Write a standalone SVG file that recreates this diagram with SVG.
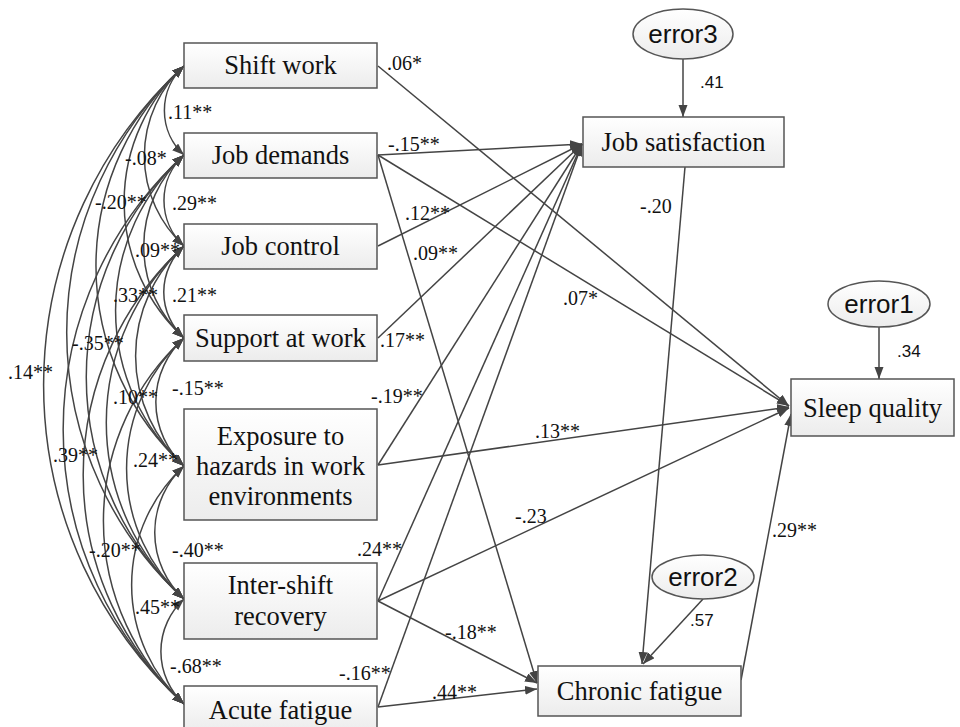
<svg xmlns="http://www.w3.org/2000/svg" width="960" height="727" viewBox="0 0 960 727">
<defs>
<linearGradient id="gb" x1="0" y1="0" x2="0" y2="1"><stop offset="0" stop-color="#ffffff"/><stop offset="1" stop-color="#ececec"/></linearGradient>
<marker id="ah" markerUnits="userSpaceOnUse" markerWidth="14" markerHeight="10" refX="12" refY="4.5" orient="auto-start-reverse"><path d="M0 0 L12 4.5 L0 9 Z" fill="#444"/></marker>
</defs>
<style>
.box{fill:url(#gb);stroke:#555;stroke-width:1.5}
.t{font-size:26.5px;fill:#111;text-anchor:middle}
.e{font-size:26px;fill:#111;text-anchor:middle}
.l{font-size:20px;fill:#111}
.s{font-size:17px;fill:#111}
.c path{fill:none;stroke:#444;stroke-width:1.5;marker-end:url(#ah)}
.cov path{fill:none;stroke:#444;stroke-width:1.5;marker-start:url(#ah);marker-end:url(#ah)}
</style>
<rect width="960" height="727" fill="#fff"/>

<g id="covariances" class="cov">
<path d="M184 66 A60.3 60.3 0 0 0 184 155"/>
<path d="M184 66 A122 122 0 0 0 184 246"/>
<path d="M184 66 A184.4 184.4 0 0 0 184 338"/>
<path d="M184 66 A271.2 271.2 0 0 0 184 466"/>
<path d="M184 66 A361.4 361.4 0 0 0 184 599"/>
<path d="M184 66 A432.6 432.6 0 0 0 184 704"/>
<path d="M184 155 A61.7 61.7 0 0 0 184 246"/>
<path d="M184 155 A124.1 124.1 0 0 0 184 338"/>
<path d="M184 155 A210.9 210.9 0 0 0 184 466"/>
<path d="M184 155 A301 301 0 0 0 184 599"/>
<path d="M184 155 A372.2 372.2 0 0 0 184 704"/>
<path d="M184 246 A62.4 62.4 0 0 0 184 338"/>
<path d="M184 246 A149.2 149.2 0 0 0 184 466"/>
<path d="M184 246 A239.3 239.3 0 0 0 184 599"/>
<path d="M184 246 A310.5 310.5 0 0 0 184 704"/>
<path d="M184 338 A86.8 86.8 0 0 0 184 466"/>
<path d="M184 338 A177 177 0 0 0 184 599"/>
<path d="M184 338 A248.1 248.1 0 0 0 184 704"/>
<path d="M184 466 A90.2 90.2 0 0 0 184 599"/>
<path d="M184 466 A161.4 161.4 0 0 0 184 704"/>
<path d="M184 599 A71.2 71.2 0 0 0 184 704"/>
</g>

<g id="connectors" class="c">
<path d="M378 66 L789 406"/>
<path d="M378 155 L582 144"/>
<path d="M378 155 L789 406"/>
<path d="M378 155 L537 683"/>
<path d="M378 246 L582 144"/>
<path d="M378 338 L582 144"/>
<path d="M378 465 L582 144"/>
<path d="M378 465 L789 407"/>
<path d="M378 601 L582 144"/>
<path d="M378 601 L789 408"/>
<path d="M378 601 L537 683"/>
<path d="M378 707 L582 144"/>
<path d="M378 707 L537 689"/>
<path d="M685 167 L642 664"/>
<path d="M741 680 L791 414"/>
<path d="M683 59 L683 117"/>
<path d="M879 327 L879 379"/>
<path d="M703 599 L643 664"/>
</g>

<g id="labels" font-family="Liberation Serif, Times New Roman, serif">
<text class="l" x="168" y="119">.11**</text>
<text class="l" x="125" y="165">-.08*</text>
<text class="l" x="95" y="209">-.20**</text>
<text class="l" x="172" y="210">.29**</text>
<text class="l" x="135" y="257">.09**</text>
<text class="l" x="113" y="302">.33**</text>
<text class="l" x="172" y="302">.21**</text>
<text class="l" x="72" y="350">-.35**</text>
<text class="l" x="8" y="379">.14**</text>
<text class="l" x="113" y="404">.10**</text>
<text class="l" x="172" y="395">-.15**</text>
<text class="l" x="53" y="462">.39**</text>
<text class="l" x="133" y="467">.24**</text>
<text class="l" x="89" y="557">-.20**</text>
<text class="l" x="172" y="557">-.40**</text>
<text class="l" x="135" y="614">.45**</text>
<text class="l" x="170" y="673">-.68**</text>
<text class="l" x="387" y="70">.06*</text>
<text class="l" x="388" y="151">-.15**</text>
<text class="l" x="405" y="220">.12**</text>
<text class="l" x="413" y="260">.09**</text>
<text class="l" x="563" y="305">.07*</text>
<text class="l" x="380" y="347">.17**</text>
<text class="l" x="371" y="403">-.19**</text>
<text class="l" x="535" y="438">.13**</text>
<text class="l" x="515" y="523">-.23</text>
<text class="l" x="357" y="556">.24**</text>
<text class="l" x="445" y="639">-.18**</text>
<text class="l" x="339" y="680">-.16**</text>
<text class="l" x="432" y="699">.44**</text>
<text class="l" x="640" y="213">-.20</text>
<text class="l" x="772" y="537">.29**</text>
<text class="s" x="700" y="88" font-family="Liberation Sans, Arial, sans-serif">.41</text>
<text class="s" x="897" y="357" font-family="Liberation Sans, Arial, sans-serif">.34</text>
<text class="s" x="690" y="626" font-family="Liberation Sans, Arial, sans-serif">.57</text>
</g>

<g id="nodes" font-family="Liberation Serif, Times New Roman, serif">
<g id="shift-work"><rect class="box" x="184" y="43" width="193" height="45"/><text class="t" x="280.5" y="74">Shift work</text></g>
<g id="job-demands"><rect class="box" x="184" y="133" width="193" height="45"/><text class="t" x="280.5" y="164">Job demands</text></g>
<g id="job-control"><rect class="box" x="184" y="224" width="193" height="45"/><text class="t" x="280.5" y="255">Job control</text></g>
<g id="support-at-work"><rect class="box" x="184" y="315" width="193" height="46"/><text class="t" x="280.5" y="347">Support at work</text></g>
<g id="exposure"><rect class="box" x="184" y="409" width="193" height="111"/><text class="t" x="280.5" y="445">Exposure to</text><text class="t" x="280.5" y="475">hazards in work</text><text class="t" x="280.5" y="505">environments</text></g>
<g id="inter-shift-recovery"><rect class="box" x="184" y="563" width="193" height="76"/><text class="t" x="280.5" y="594">Inter-shift</text><text class="t" x="280.5" y="625">recovery</text></g>
<g id="acute-fatigue"><rect class="box" x="184" y="686" width="193" height="46"/><text class="t" x="280.5" y="719">Acute fatigue</text></g>
<g id="job-satisfaction"><rect class="box" x="583" y="117" width="201" height="50"/><text class="t" x="683.5" y="151">Job satisfaction</text></g>
<g id="sleep-quality"><rect class="box" x="791" y="379" width="163" height="57"/><text class="t" x="872.5" y="417">Sleep quality</text></g>
<g id="chronic-fatigue"><rect class="box" x="538" y="666" width="203" height="50"/><text class="t" x="639.5" y="700">Chronic fatigue</text></g>
<g id="error3" font-family="Liberation Sans, Arial, sans-serif"><ellipse class="box" cx="683" cy="34" rx="50" ry="25"/><text class="e" x="683" y="43">error3</text></g>
<g id="error1" font-family="Liberation Sans, Arial, sans-serif"><ellipse class="box" cx="879" cy="304" rx="51" ry="23"/><text class="e" x="879" y="313">error1</text></g>
<g id="error2" font-family="Liberation Sans, Arial, sans-serif"><ellipse class="box" cx="703" cy="577" rx="51" ry="22"/><text class="e" x="703" y="586">error2</text></g>
</g>
</svg>
